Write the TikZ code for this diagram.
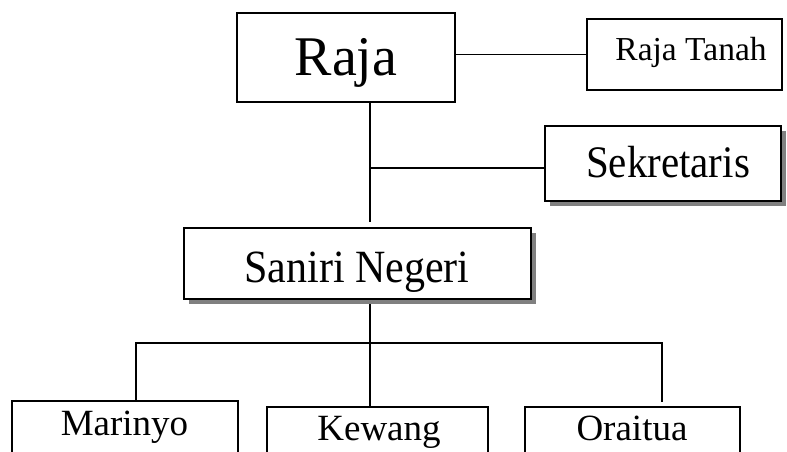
\documentclass[tikz,border=0pt]{standalone}
\usepackage{fontspec}
\setmainfont{Liberation Serif}
\usetikzlibrary{shadows,backgrounds}
\begin{document}
\begin{tikzpicture}[x=1pt,y=-1pt,
  box/.style={draw=black,line width=1.8pt,fill=white,inner sep=0pt,outer sep=0pt},
  shbox/.style={box,drop shadow={shadow xshift=5pt,shadow yshift=-5pt,fill=black!50,opacity=1}},
  lbl/.style={anchor=base,inner sep=0pt},
  conn/.style={line width=1.8pt,line cap=rect}]
\useasboundingbox (0,0) rectangle (787,452);
\clip (0,0) rectangle (787,452);
% boxes
\node[box,minimum width=218pt,minimum height=89pt] (raja) at (346,57.5) {};
\node[box,minimum width=195pt,minimum height=71pt] (tanah) at (684.5,54.5) {};
\node[shbox,minimum width=236pt,minimum height=75pt] (sekr) at (663,163.5) {};
\node[shbox,minimum width=347pt,minimum height=71pt] (saniri) at (357.5,263.5) {};
\node[box,minimum width=226pt,minimum height=79pt] (mar) at (125,440.5) {};
\node[box,minimum width=221pt,minimum height=73pt] (kew) at (377.5,443.5) {};
\node[box,minimum width=215pt,minimum height=73pt] (ora) at (632.5,443.5) {};
% labels
\node[lbl] (traja) at (346,76) {\fontsize{56pt}{60pt}\selectfont Raja};
\node[lbl] (ttanah) at (691,61) {\fontsize{33.5pt}{36pt}\selectfont Raja Tanah};
\node[lbl] (tsekr) at (668,177) {\scalebox{1}[1.1]{\fontsize{41pt}{45pt}\selectfont Sekretaris}};
\node[lbl] (tsaniri) at (357,282) {\scalebox{1}[1.1]{\fontsize{42pt}{46pt}\selectfont Saniri Negeri}};
\node[lbl] (tmar) at (124.5,435) {\fontsize{37pt}{40pt}\selectfont Marinyo};
\node[lbl] (tkew) at (379,440) {\fontsize{37pt}{40pt}\selectfont Kewang};
\node[lbl] (tora) at (632,440) {\fontsize{37pt}{40pt}\selectfont Oraitua};
% connectors
\coordinate (tend) at (370,221);
\coordinate (sb) at (370,168);
\coordinate (bus) at (370,343);
\coordinate (bl) at (136,343);
\coordinate (br) at (662,343);
\coordinate (oend) at (662,401);
\begin{pgfonlayer}{background}
\draw[conn] (raja.east |- tanah.west) -- (tanah.west);
\draw[conn] (raja.south -| tend) -- (tend);
\draw[conn] (sb) -- (sb -| sekr.west);
\draw[conn] (saniri.south -| bus) -- (bus);
\draw[conn] (bl) -- (br);
\draw[conn] (bl) -- (bl |- mar.north);
\draw[conn] (bus) -- (bus |- kew.north);
\draw[conn] (br) -- (oend);
\end{pgfonlayer}
\end{tikzpicture}
\end{document}
